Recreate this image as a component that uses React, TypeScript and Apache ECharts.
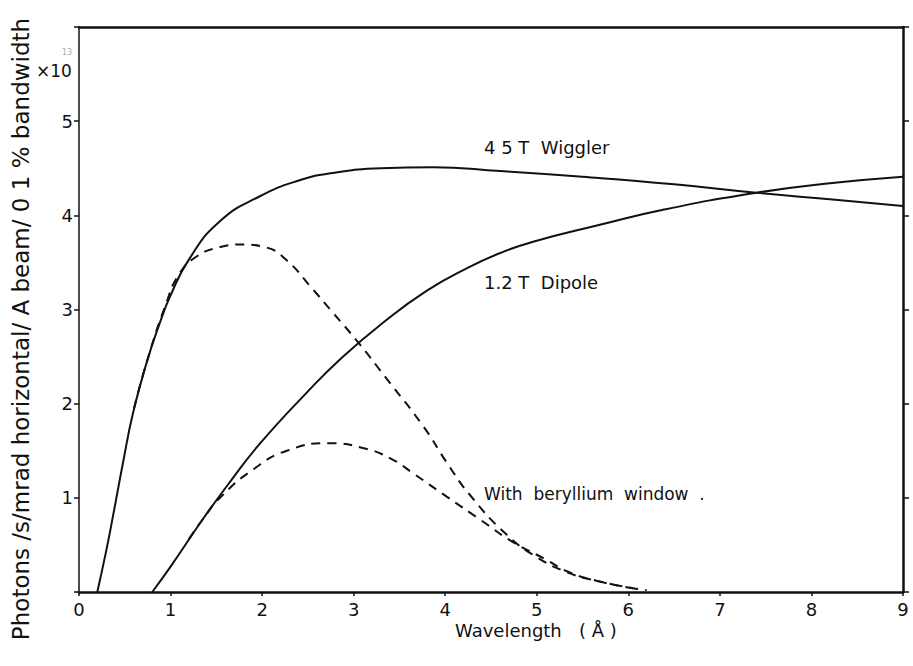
import React, { useEffect, useRef } from "react";
import * as echarts from "echarts";

const xTicks = [0, 1, 2, 3, 4, 5, 6, 7, 8, 9];
const yTickLabels = ["", "1", "2", "3", "4", "5", ""];

const wiggler: [number, number][] = [
  [0.2, 0], [0.3, 0.45], [0.37, 0.8], [0.48, 1.37], [0.59, 1.9], [0.74, 2.44], [0.88, 2.85],
  [1.0, 3.15], [1.2, 3.53], [1.53, 3.93], [1.97, 4.2], [2.4, 4.37], [2.77, 4.45], [3.3, 4.5],
  [3.86, 4.51], [4.6, 4.47], [5.5, 4.41], [6.5, 4.33], [7.4, 4.24], [8.2, 4.17], [9, 4.1],
];

const dipole: [number, number][] = [
  [0.8, 0], [1.0, 0.27], [1.35, 0.77], [1.65, 1.17], [1.98, 1.58], [2.49, 2.12], [2.85, 2.47],
  [3.32, 2.86], [3.8, 3.2], [4.24, 3.44], [4.6, 3.6], [4.96, 3.72], [5.69, 3.9], [6.38, 4.06],
  [7.4, 4.24], [8.2, 4.34], [9, 4.41],
];

const wigglerBe: [number, number][] = [
  [0.6, 1.95], [0.74, 2.44], [0.95, 3.06], [1.09, 3.37], [1.28, 3.56], [1.53, 3.66], [1.78, 3.69],
  [2.04, 3.66], [2.26, 3.53], [2.54, 3.23], [2.77, 2.97], [3.05, 2.65], [3.34, 2.29], [3.76, 1.76],
  [4.02, 1.37], [4.27, 1.03], [4.67, 0.61], [5.0, 0.37], [5.33, 0.21], [5.65, 0.12], [6.05, 0.04],
  [6.2, 0.02],
];

const dipoleBe: [number, number][] = [
  [1.2, 0.56], [1.35, 0.77], [1.54, 1.0], [1.9, 1.3], [2.27, 1.5], [2.74, 1.58], [3.1, 1.53],
  [3.4, 1.42], [3.65, 1.26], [4.02, 1.01], [4.38, 0.77], [4.74, 0.53], [5.11, 0.34], [5.33, 0.22],
  [5.65, 0.12], [6.05, 0.04],
];

const labels = {
  wiggler: "4 5 T  Wiggler",
  dipole: "1.2 T  Dipole",
  be: "With  beryllium  window",
  xName: "Wavelength   ( Å )",
  yName: "Photons /s/mrad horizontal/ A beam/ 0 1 % bandwidth",
};

const FONT = "DejaVu Sans, Liberation Sans, Arial, sans-serif";
const INK = "#111";

export default function App() {
  const ref = useRef<HTMLDivElement>(null);
  useEffect(() => {
    if (!ref.current) return;
    const chart = echarts.init(ref.current, null, { renderer: "svg" });
    const solid = { color: INK, width: 2, type: "solid" as const };
    const dashed = { color: INK, width: 2, type: [9, 7] as any };
    const mk = (name: string, data: [number, number][], ls: any) => ({
      type: "line",
      name,
      data,
      showSymbol: false,
      smooth: 0.5,
      lineStyle: ls,
      silent: true,
    });
    chart.setOption({
      animation: false,
      backgroundColor: "#fff",
      grid: { left: 79, top: 27, width: 824, height: 565, containLabel: false },
      xAxis: [
        {
          type: "value",
          min: xTicks[0],
          max: xTicks[xTicks.length - 1],
          interval: 1,
          axisLine: { onZero: false, lineStyle: { color: INK, width: 2.5 } },
          axisTick: { show: true, length: 4, inside: false, lineStyle: { color: INK, width: 1.5 } },
          axisLabel: { color: INK, fontSize: 18, fontFamily: FONT, margin: 8 },
          splitLine: { show: false },
        },
        {
          type: "value",
          position: "top",
          min: 0,
          max: 9,
          interval: 1,
          axisLine: { show: true, onZero: false, lineStyle: { color: INK, width: 2.5 } },
          axisTick: { show: false },
          axisLabel: { show: false },
          splitLine: { show: false },
        },
      ],
      yAxis: [
        {
          type: "value",
          min: 0,
          max: 6,
          interval: 1,
          axisLine: { show: true, onZero: false, lineStyle: { color: INK, width: 1.5 } },
          axisTick: { show: true, length: 5, lineStyle: { color: INK, width: 1.5 } },
          axisLabel: {
            color: INK,
            fontSize: 18,
            fontFamily: FONT,
            margin: 6,
            formatter: (v: number) => yTickLabels[Math.round(v)] ?? "",
          },
          splitLine: { show: false },
        },
        {
          type: "value",
          position: "right",
          min: 0,
          max: 6,
          interval: 1,
          axisLine: { show: true, onZero: false, lineStyle: { color: INK, width: 2.5 } },
          axisTick: { show: true, length: 6, lineStyle: { color: INK, width: 1.5 } },
          axisLabel: { show: false },
          splitLine: { show: false },
        },
      ],
      series: [
        mk("4.5 T Wiggler", wiggler, solid),
        mk("1.2 T Dipole", dipole, solid),
        mk("Wiggler with Be window", wigglerBe, dashed),
        mk("Dipole with Be window", dipoleBe, dashed),
      ],
      graphic: [
        {
          type: "text",
          left: 484,
          top: 138,
          style: { text: labels.wiggler, fill: INK, font: `18px ${FONT}` },
        },
        {
          type: "text",
          left: 484,
          top: 273,
          style: { text: labels.dipole, fill: INK, font: `18px ${FONT}` },
        },
        {
          type: "text",
          left: 484,
          top: 485,
          style: { text: labels.be + "  .", fill: INK, font: `17px ${FONT}` },
        },
        {
          type: "text",
          left: 455,
          top: 621,
          style: { text: labels.xName, fill: INK, font: `18px ${FONT}` },
        },
        {
          type: "text",
          x: 21,
          y: 329,
          rotation: Math.PI / 2,
          style: {
            text: labels.yName,
            fill: INK,
            font: `23px ${FONT}`,
            align: "center",
            verticalAlign: "middle",
          },
        },
        {
          type: "text",
          left: 36,
          top: 62,
          style: { text: "×10", fill: INK, font: `17px ${FONT}` },
        },
        {
          type: "text",
          left: 62,
          top: 48,
          style: { text: "13", fill: "#aaa", font: `8px ${FONT}` },
        },
      ],
    });
    return () => chart.dispose();
  }, []);
  return (
    <div
      ref={ref}
      style={{ position: "fixed", left: 0, top: 0, width: 913, height: 666 }}
    />
  );
}
